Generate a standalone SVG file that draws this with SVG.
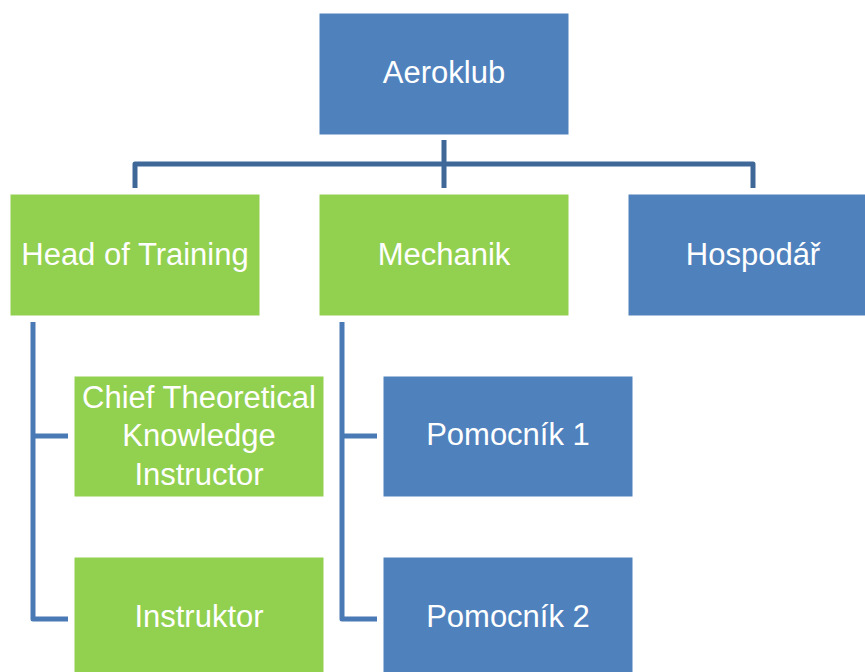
<svg xmlns="http://www.w3.org/2000/svg" width="865" height="672" viewBox="0 0 865 672">
<style>
.blue{fill:#4f81bd;stroke:#ffffff;stroke-width:1}
.green{fill:#92d050;stroke:#ffffff;stroke-width:1}
.t{font-family:"Liberation Sans",Arial,sans-serif;font-size:31px;fill:#ffffff;text-anchor:middle}
.c1{fill:none;stroke:#3f6899;stroke-width:5;stroke-linejoin:round}
.c2{fill:none;stroke:#4a7ab5;stroke-width:5;stroke-linejoin:round}
</style>
<rect width="865" height="672" fill="#ffffff"/>
<g id="connectors">
<path class="c1" d="M135,188 V164 H753 V188"/>
<path class="c1" d="M444,140 V188"/>
<path class="c2" d="M33,322 V619 H68 M33,436 H68"/>
<path class="c2" d="M342,322 V619 H377 M342,436 H377"/>
</g>
<g id="aeroklub"><rect class="blue" x="319" y="13" width="250" height="122"/><text class="t" x="444" y="83">Aeroklub</text></g>
<g id="head-of-training"><rect class="green" x="10" y="194" width="250" height="122"/><text class="t" x="135" y="265">Head of Training</text></g>
<g id="mechanik"><rect class="green" x="319" y="194" width="250" height="122"/><text class="t" x="444" y="265">Mechanik</text></g>
<g id="hospodar"><rect class="blue" x="628" y="194" width="250" height="122"/><text class="t" x="753" y="265">Hospodář</text></g>
<g id="chief"><rect class="green" x="74" y="376" width="250" height="121"/><text class="t" x="199" y="408">Chief Theoretical</text><text class="t" x="199" y="446">Knowledge</text><text class="t" x="199" y="485">Instructor</text></g>
<g id="instruktor"><rect class="green" x="74" y="557" width="250" height="122"/><text class="t" x="199" y="627">Instruktor</text></g>
<g id="pomocnik1"><rect class="blue" x="383" y="376" width="250" height="121"/><text class="t" x="508" y="445">Pomocník 1</text></g>
<g id="pomocnik2"><rect class="blue" x="383" y="557" width="250" height="122"/><text class="t" x="508" y="627">Pomocník 2</text></g>
</svg>
